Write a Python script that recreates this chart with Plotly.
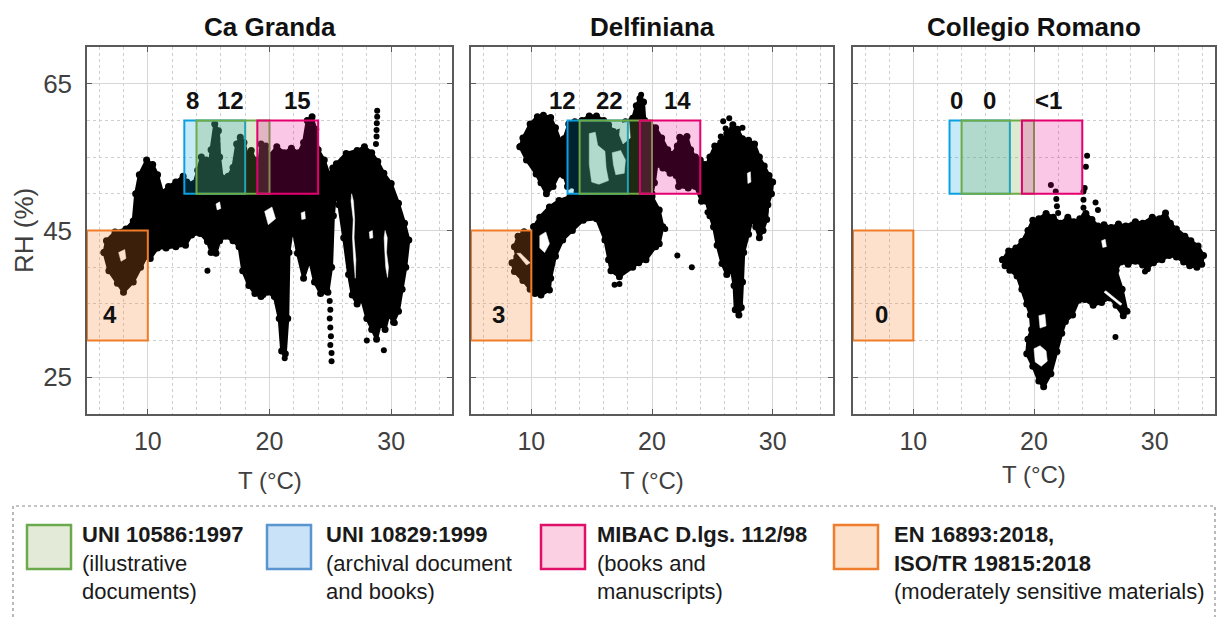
import plotly.graph_objects as go

W, H = 1218, 617
FONT = "Liberation Sans, Arial, sans-serif"

# ---------------------------------------------------------------- data
PANELS = ["Ca Granda", "Delfiniana", "Collegio Romano"]

# Recommended T/RH ranges (order: blue, green, pink, orange)
STD_T = [(13, 18), (14, 20), (19, 24), (5, 10)]
STD_RH = [(50, 60), (50, 60), (50, 60), (30, 45)]

# Share of readings (%) falling inside each range, per site
COUNTS = [
    ["8", "12", "15", "4"],
    ["12", "22", "14", "3"],
    ["0", "0", "<1", "0"],
]
COUNT_T = [
    [13.64, 16.77, 22.28, 6.9],
    [12.59, 16.45, 22.1, 7.25],
    [13.55, 16.3, 21.2, 7.35],
]
COUNT_RH = [62.7, 62.7, 62.7, 33.5]

X_TICKS = [10, 20, 30]
Y_TICKS = [25, 45, 65]

# Measured T (°C) / RH (%) clouds: outlines of the dense regions,
# gaps inside them, and sparse readings.
CA_MAIN = [
    (6.4, 42.0), (6.6, 43.6), (7.3, 44.8), (8.2, 45.2), (8.8, 46.3), (9.0, 50.0),
    (9.3, 52.6), (9.9, 54.6), (10.4, 54.0), (10.8, 52.6), (11.2, 50.2), (11.7, 51.0),
    (12.3, 51.6), (12.9, 52.4), (13.2, 51.6), (13.8, 51.4), (14.1, 53.2), (14.4, 55.0),
    (14.8, 54.6), (15.0, 52.6), (15.2, 56.0), (15.5, 59.5), (15.8, 58.6), (15.9, 55.0),
    (16.1, 52.2), (16.6, 52.4), (17.0, 53.6), (17.3, 56.8), (17.6, 57.7), (17.9, 57.0),
    (18.2, 55.2), (18.5, 55.9), (18.8, 54.6), (19.0, 52.0), (19.3, 56.8), (19.7, 56.5),
    (20.0, 55.2), (20.6, 56.4), (21.2, 55.6), (21.8, 56.2), (22.4, 55.6), (22.8, 57.0),
    (23.1, 60.0), (23.5, 60.5), (23.8, 58.8), (24.0, 56.0), (24.5, 54.6), (24.9, 52.6),
    (25.2, 53.5), (25.5, 54.1), (26.3, 55.5), (27.2, 55.9), (27.8, 56.4), (28.4, 55.6),
    (28.9, 54.4), (29.4, 52.8), (30.0, 51.4), (30.6, 48.7), (31.1, 46.0), (31.45, 43.7),
    (31.2, 40.0), (30.9, 37.0), (30.6, 34.0), (30.2, 32.5), (29.8, 33.5), (29.5, 31.5),
    (29.1, 32.2), (28.8, 30.2), (28.4, 31.5), (28.0, 33.0), (27.6, 35.5), (27.2, 35.0),
    (26.8, 36.2), (26.5, 39.0), (26.1, 44.0), (25.7, 48.5), (25.45, 50.5), (25.25, 47.0),
    (25.1, 40.0), (24.8, 36.6), (24.2, 36.4), (23.7, 38.0), (23.3, 41.0), (22.8, 38.5),
    (22.3, 41.9), (21.9, 45.5), (21.6, 42.0), (21.5, 33.0), (21.3, 28.2), (21.0, 28.6),
    (20.8, 33.0), (20.4, 36.0), (19.8, 36.6), (19.3, 36.0), (18.8, 36.4), (18.3, 37.5),
    (17.8, 39.5), (17.5, 42.8), (17.0, 43.6), (16.4, 44.2), (15.9, 43.6), (15.6, 41.9),
    (15.2, 42.0), (14.9, 43.5), (14.3, 44.6), (13.6, 44.4), (13.1, 43.0), (12.3, 42.8),
    (11.5, 42.6), (10.8, 42.6), (10.2, 41.2), (9.9, 41.5), (9.4, 40.0), (8.8, 38.0),
    (8.0, 36.6), (7.5, 37.8), (6.8, 39.5),
]
CA_GAPS = [
    [(19.6, 47.6), (20.2, 48.2), (20.5, 46.6), (19.9, 45.8)],
    [(26.75, 50.0), (26.9, 49.0), (27.0, 46.5), (26.95, 44.0), (27.1, 41.0),
     (27.05, 38.5), (26.92, 41.0), (26.82, 44.0), (26.88, 46.5), (26.7, 49.0)],
    [(29.5, 45.0), (29.68, 44.0), (29.62, 42.0), (29.78, 40.0), (29.7, 38.6),
     (29.55, 40.0), (29.48, 42.0), (29.42, 44.0)],
    [(7.6, 42.0), (8.1, 42.4), (8.2, 41.2), (7.8, 40.8)],
    [(15.6, 48.6), (15.9, 48.9), (16.0, 48.0), (15.7, 47.8)],
    [(22.6, 47.4), (22.9, 47.6), (22.95, 46.6), (22.65, 46.5)],
    [(28.2, 44.8), (28.45, 45.0), (28.5, 44.0), (28.25, 43.9)],
]
CA_DOTS = [
    (24.95, 35.4), (25.0, 34.2), (24.95, 33.0), (25.0, 31.8), (25.05, 30.6), (25.0, 29.4),
    (25.1, 28.3), (25.1, 27.2), (28.75, 56.8), (28.8, 57.8), (28.8, 58.7), (28.82, 59.6),
    (28.85, 60.5), (28.85, 61.3), (14.9, 39.5), (21.25, 27.6), (28.0, 30.0), (29.4, 28.7),
    (30.3, 32.4), (19.5, 36.2),
]

DE_UPPER = [
    (9.06, 56.4), (9.3, 57.6), (9.9, 59.5), (10.5, 60.5), (11.0, 60.7), (11.6, 60.4),
    (12.0, 59.0), (12.4, 57.2), (12.7, 57.5), (13.1, 59.5), (13.6, 59.8), (14.2, 60.0),
    (14.8, 60.6), (15.4, 60.6), (16.0, 60.0), (16.4, 59.4), (16.8, 58.5), (17.3, 58.4),
    (17.8, 59.8), (18.4, 60.3), (18.7, 62.0), (19.0, 63.0), (19.3, 62.5), (19.4, 60.0),
    (19.8, 59.6), (20.3, 59.0), (20.8, 57.6), (21.3, 56.0), (21.7, 55.4), (22.1, 56.5),
    (22.3, 57.7), (22.9, 57.8), (23.2, 56.0), (23.6, 55.0), (24.0, 54.6), (24.4, 54.0),
    (24.5, 52.0), (24.4, 49.5), (24.1, 49.0), (23.6, 51.0), (23.0, 50.8), (22.2, 51.0),
    (22.0, 52.5), (21.5, 52.8), (20.9, 53.5), (20.4, 54.0), (20.2, 51.5), (20.0, 50.0),
    (19.0, 49.8), (18.0, 49.5), (17.0, 49.3), (16.0, 49.5), (15.0, 49.6), (14.0, 49.8),
    (13.8, 50.3), (13.4, 51.2), (13.0, 51.0), (12.7, 52.5), (12.3, 52.7), (11.8, 51.0),
    (11.25, 50.0), (10.8, 51.5), (10.4, 52.7), (9.6, 54.6),
]
DE_LOWER = [
    (10.2, 45.5), (10.7, 46.8), (11.5, 48.2), (12.3, 49.1), (13.2, 49.6), (14.0, 50.4),
    (16.0, 50.4), (18.0, 50.2), (19.5, 50.4), (20.0, 49.6), (20.6, 47.8), (20.9, 45.5),
    (20.6, 43.2), (20.3, 42.8), (19.5, 41.0), (18.9, 40.6), (18.4, 40.0), (17.3, 38.7),
    (16.6, 39.5), (16.4, 41.0), (16.1, 43.7), (15.4, 46.6), (14.3, 46.4), (13.4, 45.0),
    (12.6, 43.7), (12.0, 41.5), (11.6, 38.5), (11.5, 36.9), (10.8, 36.2), (10.3, 36.4),
    (10.1, 38.0), (10.0, 41.0), (10.1, 44.0),
]
DE_COLD = [
    (9.4, 44.8), (10.3, 44.8), (10.4, 41.0), (10.3, 37.5), (9.9, 37.0), (9.3, 38.2),
    (8.6, 39.4), (8.4, 40.6), (8.8, 41.4), (8.6, 42.8), (8.9, 44.2),
]
DE_RIGHT = [
    (24.4, 53.5), (24.8, 55.0), (25.2, 56.5), (25.7, 57.0), (26.2, 58.2), (26.7, 59.4),
    (27.1, 58.8), (27.5, 57.5), (28.0, 57.3), (28.5, 56.8), (28.9, 55.0), (29.3, 53.8),
    (29.7, 52.5), (30.0, 51.6), (29.9, 50.0), (29.6, 48.5), (29.5, 46.5), (29.2, 45.0),
    (28.9, 44.0), (28.6, 45.5), (28.3, 46.5), (28.0, 44.5), (27.6, 42.0), (27.5, 38.0),
    (27.4, 34.5), (27.2, 33.5), (26.9, 34.2), (26.8, 37.5), (26.6, 39.5), (26.2, 39.0),
    (25.8, 40.5), (25.4, 43.0), (25.1, 45.5), (24.8, 47.0), (24.5, 49.0), (24.4, 51.0),
]
DE_GAPS = [
    [(14.8, 58.2), (15.3, 58.4), (15.5, 56.6), (16.1, 55.8), (16.2, 53.5), (16.4, 51.8),
     (15.6, 51.3), (15.0, 51.6), (14.8, 54.0)],
    [(16.7, 55.6), (17.4, 55.9), (17.8, 54.6), (17.7, 52.8), (17.0, 52.6), (16.8, 54.0)],
    [(17.4, 59.6), (18.1, 59.8), (18.2, 57.6), (17.6, 56.8), (17.3, 58.0)],
    [(10.7, 44.3), (11.2, 44.8), (11.5, 43.2), (11.1, 42.0), (10.7, 42.6)],
    [(8.8, 41.9), (9.1, 41.9), (9.9, 40.6), (9.6, 40.3)],
    [(27.9, 52.8), (28.15, 53.0), (28.2, 51.6), (27.95, 51.4)],
]
DE_DOTS = [
    (25.9, 59.9), (26.1, 58.9), (25.7, 57.8), (26.4, 60.3), (27.5, 59.0), (29.1, 46.6),
    (29.4, 47.6), (16.9, 37.6), (17.3, 37.7), (21.1, 45.2), (22.1, 41.6), (23.3, 40.0),
    (19.1, 63.5), (24.6, 47.5),
]

CR_MAIN = [
    (17.4, 41.0), (17.9, 42.2), (18.5, 42.6), (19.0, 43.5), (19.5, 45.0), (19.9, 46.4),
    (20.4, 46.6), (21.0, 47.3), (21.6, 46.8), (22.2, 46.0), (22.8, 46.8), (23.3, 46.2),
    (23.8, 46.6), (24.3, 47.3), (24.8, 46.5), (25.3, 45.6), (25.8, 45.8), (26.4, 45.4),
    (27.0, 45.9), (27.6, 45.6), (28.4, 46.2), (29.0, 46.0), (29.8, 46.8), (30.4, 46.6),
    (30.9, 47.4), (31.3, 46.0), (31.8, 45.2), (32.5, 44.2), (33.0, 43.6), (33.6, 42.9),
    (34.05, 41.6), (33.9, 40.4), (33.5, 40.0), (32.9, 40.2), (32.4, 40.7), (31.8, 41.4),
    (31.2, 41.6), (30.6, 41.0), (29.9, 40.6), (29.4, 39.8), (29.0, 40.3), (28.4, 40.8),
    (27.8, 40.4), (27.2, 40.7), (26.8, 39.6), (27.3, 37.0), (27.7, 34.0), (27.4, 33.4),
    (26.8, 34.8), (26.3, 35.8), (25.6, 35.2), (24.9, 34.8), (24.2, 35.6), (23.7, 35.5),
    (23.2, 33.5), (22.6, 32.6), (22.3, 31.0), (21.9, 28.5), (21.4, 25.5), (20.8, 23.7),
    (20.4, 24.5), (19.9, 26.5), (19.4, 28.2), (19.5, 30.2), (19.8, 31.5), (19.7, 33.5),
    (19.4, 35.0), (19.0, 37.0), (18.6, 38.8), (18.0, 39.6), (17.6, 40.2),
]
CR_GAPS = [
    [(20.0, 28.9), (20.5, 29.3), (21.0, 28.6), (21.1, 27.2), (20.6, 26.5), (20.1, 27.1)],
    [(20.4, 33.4), (20.9, 33.6), (21.0, 32.0), (20.5, 31.7)],
    [(25.8, 36.6), (25.95, 36.8), (27.3, 35.0), (27.15, 34.8)],
    [(25.6, 43.6), (25.9, 43.8), (26.0, 42.8), (25.7, 42.7)],
]
CR_DOTS = [
    (21.8, 50.3), (21.85, 49.3), (21.9, 48.3), (22.0, 47.4), (24.1, 50.3), (24.1, 49.2),
    (24.1, 48.1), (24.15, 47.0), (24.4, 55.2), (24.3, 53.7), (21.4, 51.2), (24.2, 50.8),
    (26.75, 30.5), (29.2, 39.4), (25.1, 48.8), (25.3, 47.8),
]

SITE_BLOBS = [[CA_MAIN], [DE_UPPER, DE_LOWER, DE_COLD, DE_RIGHT], [CR_MAIN]]
SITE_GAPS = [CA_GAPS, DE_GAPS, CR_GAPS]
SITE_DOTS = [CA_DOTS, DE_DOTS, CR_DOTS]

LEGEND_TEXT = [
    "<b>UNI 10586:1997</b><br>(illustrative<br>documents)",
    "<b>UNI 10829:1999</b><br>(archival document<br>and books)",
    "<b>MIBAC D.lgs. 112/98</b><br>(books and<br>manuscripts)",
    "<b>EN 16893:2018,</b><br><b>ISO/TR 19815:2018</b><br>(moderately sensitive materials)",
]

# ---------------------------------------------------------------- style
BOX_LINE = ["#0aa0e2", "#6fab45", "#e5006f", "#f07d28"]
BOX_FILL = ["rgba(0,160,227,0.22)", "rgba(112,173,71,0.25)",
            "rgba(236,0,140,0.22)", "rgba(245,130,40,0.24)"]
LEG_LINE = ["#6aaa4c", "#5a95cf", "#e0106a", "#ef7d2c"]
LEG_FILL = ["#e4ead8", "#c9e2f7", "#fbd0e2", "#fde0c9"]
LEG_BOX_X = [27, 267, 541, 834]
LEG_TEXT_X = [80, 324, 595, 892]

X_DOM = [(87, 452), (471, 833), (853, 1215)]
Y_TOP, Y_BOT = 47, 414


def px(xp):
    return xp / W


def py(yp):
    return 1 - yp / H


fig = go.Figure()
axis_ids = [("x", "y"), ("x2", "y2"), ("x3", "y3")]

for i in range(3):
    xa, ya = axis_ids[i]
    for blob in SITE_BLOBS[i]:
        t = [p[0] for p in blob] + [blob[0][0]]
        rh = [p[1] for p in blob] + [blob[0][1]]
        fig.add_trace(go.Scatter(
            x=t, y=rh, mode="lines+markers", fill="toself", fillcolor="black",
            line=dict(color="black", width=3), marker=dict(size=7, color="black"),
            xaxis=xa, yaxis=ya, hoverinfo="skip", showlegend=False))
    for gap in SITE_GAPS[i]:
        t = [p[0] for p in gap] + [gap[0][0]]
        rh = [p[1] for p in gap] + [gap[0][1]]
        fig.add_trace(go.Scatter(
            x=t, y=rh, mode="lines", fill="toself", fillcolor="white",
            line=dict(color="white", width=0.5),
            xaxis=xa, yaxis=ya, hoverinfo="skip", showlegend=False))
    dots = SITE_DOTS[i]
    fig.add_trace(go.Scatter(
        x=[p[0] for p in dots], y=[p[1] for p in dots], mode="markers",
        marker=dict(size=6, color="black"),
        xaxis=xa, yaxis=ya, hoverinfo="skip", showlegend=False))

shapes = []
annotations = []
for i in range(3):
    xa, ya = axis_ids[i]
    # orange, blue, green, pink drawing order
    for k in [3, 0, 1, 2]:
        shapes.append(dict(
            type="rect", xref=xa, yref=ya, x0=STD_T[k][0], x1=STD_T[k][1],
            y0=STD_RH[k][0], y1=STD_RH[k][1], layer="above",
            fillcolor=BOX_FILL[k], line=dict(color=BOX_LINE[k], width=2)))
    for k in range(4):
        annotations.append(dict(
            xref=xa, yref=ya, x=COUNT_T[i][k], y=COUNT_RH[k], text="<b>%s</b>" % COUNTS[i][k],
            showarrow=False, font=dict(size=24, color="#111111", family=FONT)))
    x0, x1 = X_DOM[i]
    annotations.append(dict(
        xref="paper", yref="paper", x=px((x0 + x1) / 2), y=py(27), text="<b>%s</b>" % PANELS[i],
        showarrow=False, xanchor="center", yanchor="middle",
        font=dict(size=26, color="#111111", family=FONT)))
    annotations.append(dict(
        xref="paper", yref="paper", x=px((x0 + x1) / 2), y=py(480 if i < 2 else 474),
        text="T (°C)", showarrow=False, xanchor="center", yanchor="middle",
        font=dict(size=24, color="#404040", family=FONT)))

annotations.append(dict(
    xref="paper", yref="paper", x=px(24), y=py(231), text="RH (%)", textangle=-90,
    showarrow=False, xanchor="center", yanchor="middle",
    font=dict(size=26, color="#404040", family=FONT)))

# legend panel
shapes.append(dict(type="rect", xref="paper", yref="paper", x0=px(13), x1=px(1215),
                   y0=py(640), y1=py(506), layer="above",
                   line=dict(color="#8a8a8a", width=1.2, dash="dot")))
for k in range(4):
    shapes.append(dict(type="rect", xref="paper", yref="paper",
                       x0=px(LEG_BOX_X[k]), x1=px(LEG_BOX_X[k] + 44),
                       y0=py(569), y1=py(525), layer="above",
                       fillcolor=LEG_FILL[k], line=dict(color=LEG_LINE[k], width=2.5)))
    annotations.append(dict(
        xref="paper", yref="paper", x=px(LEG_TEXT_X[k]), y=py(520), text=LEGEND_TEXT[k],
        showarrow=False, xanchor="left", yanchor="top", align="left",
        font=dict(size=22, color="#1a1a1a", family=FONT)))

layout_axes = {}
for i in range(3):
    xa, ya = axis_ids[i]
    xname = "xaxis" if i == 0 else "xaxis%d" % (i + 1)
    yname = "yaxis" if i == 0 else "yaxis%d" % (i + 1)
    layout_axes[xname] = dict(
        domain=[px(X_DOM[i][0]), px(X_DOM[i][1])], anchor=ya, range=[5, 35],
        tickmode="array", tickvals=X_TICKS, showgrid=True, gridcolor="#d6d6d6", gridwidth=1,
        zeroline=False, showline=True, linecolor="#5a5a5a", linewidth=1.5, mirror="ticks",
        ticks="inside", ticklen=5, tickcolor="#5a5a5a", ticklabelstandoff=4,
        tickfont=dict(size=25, color="#404040", family=FONT),
        minor=dict(tickmode="linear", tick0=0, dtick=2, showgrid=True, gridcolor="#cfcfcf",
                   griddash="dot", gridwidth=1, ticks=""),
        fixedrange=True)
    layout_axes[yname] = dict(
        domain=[py(Y_BOT), py(Y_TOP)], anchor=xa, range=[20, 70],
        tickmode="array", tickvals=Y_TICKS, showticklabels=(i == 0),
        showgrid=True, gridcolor="#d6d6d6", gridwidth=1,
        zeroline=False, showline=True, linecolor="#5a5a5a", linewidth=1.5, mirror="ticks",
        ticks="inside", ticklen=5, tickcolor="#5a5a5a", ticklabelstandoff=8,
        tickfont=dict(size=26, color="#404040", family=FONT),
        minor=dict(tickmode="linear", tick0=0, dtick=5, showgrid=True, gridcolor="#cfcfcf",
                   griddash="dot", gridwidth=1, ticks=""),
        fixedrange=True)

fig.update_layout(
    width=W, height=H, margin=dict(l=0, r=0, t=0, b=0),
    paper_bgcolor="white", plot_bgcolor="white",
    font=dict(family=FONT), showlegend=False,
    shapes=shapes, annotations=annotations, **layout_axes)

fig.write_html("out.html", config={"displayModeBar": False})
